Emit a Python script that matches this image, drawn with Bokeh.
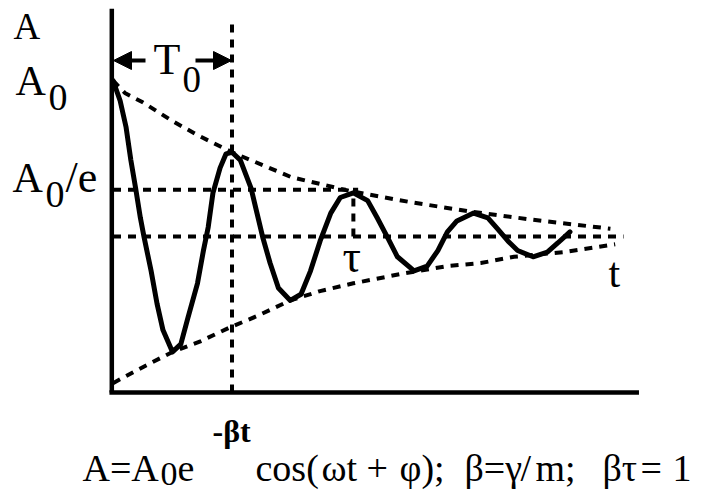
from bokeh.plotting import figure
from bokeh.models import Range1d, Arrow, NormalHead
from bokeh.core.properties import value
from bokeh.embed import file_html
from bokeh.resources import INLINE

# ---- data (t in units of T0, A in units of A0, equilibrium = 0) ----
curve_t = [0.00, 0.06, 0.11, 0.15, 0.19, 0.23, 0.26, 0.32, 0.37, 0.42, 0.50,
           0.57, 0.63, 0.71, 0.76, 0.80, 0.84, 0.90, 0.95, 1.00,
           1.07, 1.16, 1.21, 1.26, 1.32, 1.39, 1.49, 1.58, 1.66, 1.74, 1.83,
           1.91, 2.02, 2.14, 2.22, 2.31, 2.39, 2.53, 2.64, 2.73, 2.81, 2.89,
           3.03, 3.15, 3.23, 3.32, 3.40, 3.53, 3.65, 3.74, 3.84]
curve_a = [1.00, 0.87, 0.70, 0.49, 0.31, 0.12, 0.00, -0.22, -0.43, -0.60, -0.74,
           -0.69, -0.52, -0.30, -0.09, 0.06, 0.28, 0.44, 0.53, 0.54,
           0.49, 0.31, 0.15, -0.01, -0.17, -0.33, -0.41, -0.37, -0.22, -0.03, 0.15,
           0.25, 0.28, 0.23, 0.12, -0.01, -0.13, -0.22, -0.19, -0.09, 0.03, 0.10,
           0.15, 0.12, 0.05, -0.03, -0.09, -0.13, -0.10, -0.04, 0.03]

upper_t = [0.00, 0.10, 0.25, 0.50, 0.71, 1.00, 1.50, 2.00, 2.50, 3.00, 3.50, 4.18]
upper_a = [1.00, 0.92, 0.86, 0.74, 0.65, 0.54, 0.38, 0.29, 0.22, 0.16, 0.11, 0.05]

lower_t = [0.00, 0.17, 0.32, 0.50, 0.74, 0.99, 1.21, 1.49, 1.74, 2.02, 2.42,
           2.81, 3.09, 3.37, 3.79, 4.22]
lower_a = [-0.94, -0.87, -0.81, -0.74, -0.67, -0.58, -0.51, -0.41, -0.35, -0.30, -0.24,
           -0.19, -0.17, -0.13, -0.10, -0.05]

period_t = 1.00          # T0
tau_t = 2.02             # tau
level_e = 0.30           # A0/e level as drawn
axis_level = -1.00
axis_t_end = 4.42
axis_a_top = 1.46
equil_t_end = 4.29
vline_top = 1.40

# ---- layout helpers (page pixels -> data) ----
X0, KX = 112.5, 119.0
Y0, KY = 236.0, 156.0
def tx(px):
    return (px - X0) / KX
def ay(py):
    return (Y0 - py) / KY

W, H = 701, 493
p = figure(width=W, height=H, output_backend="svg", toolbar_location=None,
           x_range=Range1d(tx(0), tx(W)), y_range=Range1d(ay(H), ay(0)),
           min_border=0, x_axis_location=None, y_axis_location=None)
p.grid.visible = False
p.outline_line_color = None
p.background_fill_color = "white"
p.border_fill_color = "white"

DASH = "8 7"
DW = 4

# dashed guide lines
p.line([0, equil_t_end], [0, 0], line_color="black", line_width=DW, line_dash=DASH)
p.line([0, tau_t + 0.04], [level_e, level_e], line_color="black", line_width=DW, line_dash=DASH)
p.line([period_t, period_t], [axis_level, vline_top], line_color="black", line_width=DW, line_dash=DASH)
p.line([tau_t, tau_t], [0, 0.28], line_color="black", line_width=DW, line_dash=DASH)
# envelopes
p.line(upper_t, upper_a, line_color="black", line_width=DW, line_dash=DASH)
p.line(lower_t, lower_a, line_color="black", line_width=DW, line_dash=DASH)

# damped oscillation
p.line(curve_t, curve_a, line_color="black", line_width=5, line_join="round", line_cap="round")

# axes
p.line([-0.01, -0.01], [axis_level, axis_a_top], line_color="black", line_width=4.5)
p.line([-0.03, axis_t_end], [axis_level, axis_level], line_color="black", line_width=4.5)

# T0 arrows
for xs, xe in ((145, 113), (195, 231)):
    p.add_layout(Arrow(end=NormalHead(size=18, fill_color="black", line_color="black", line_width=1),
                       x_start=tx(xs), y_start=ay(60), x_end=tx(xe), y_end=ay(60),
                       line_color="black", line_width=4))

FONT = value("Liberation Serif")
def txt(px, py, s, size, style="normal"):
    # py is the wanted baseline; compensate the renderer's baseline offset
    p.text([tx(px)], [ay(py - 0.3 * size)], text=[s], text_font=FONT, text_font_size=f"{size}px",
           text_font_style=style, text_baseline="alphabetic", text_align="left",
           text_color="black")

txt(13, 37, "A", 37)
txt(15, 93, "A", 42)
txt(48, 108, "0", 38)
txt(12, 190, "A", 42)
txt(45, 205, "0", 38)
txt(65, 190, "/e", 44)
txt(153, 72, "T", 44)
txt(182, 90, "0", 37)
txt(342, 270, "τ", 46)
txt(608, 285, "t", 42)

# formula: A=A0e^(-βt) cos(ωt+φ); β=γ/m; βτ=1
FB = 479
txt(82, FB, "A=A", 38)
txt(160, FB + 5, "0", 34)
txt(177, FB, "e", 38)
txt(212, 440, "-βt", 32, "bold")
txt(255, FB, "cos(", 38)
txt(321, FB, "ωt", 38)
txt(366, FB, "+", 38)
txt(399, FB, "φ);", 38)
txt(464, FB, "β=γ", 38)
txt(520, FB, "/", 38)
txt(535, FB, "m;", 38)
txt(602, FB, "βτ", 38)
txt(640, FB, "=", 38)
txt(672, FB, "1", 38)

open("out.html", "w").write(file_html(p, INLINE))
